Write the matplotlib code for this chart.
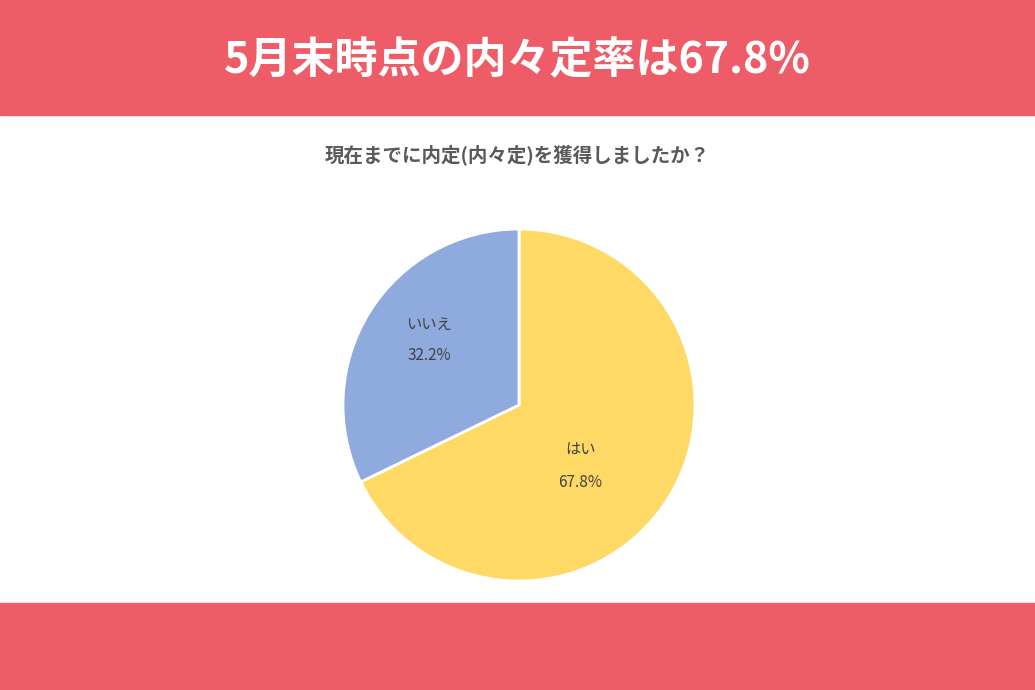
import matplotlib
matplotlib.use("Agg")
import matplotlib.pyplot as plt
import numpy as np

plt.rcParams['font.family'] = ['Noto Sans CJK JP', 'DejaVu Sans']

title = "5月末時点の内々定率は67.8%"
subtitle = "現在までに内定(内々定)を獲得しましたか？"
categories = ["はい", "いいえ"]
values = [67.8, 32.2]
colors = ["#FFD966", "#8FAADC"]

W, H = 1035, 690
fig = plt.figure(figsize=(W/100, H/100), dpi=100)
fig.patch.set_facecolor("white")
red = "#EE5C67"
fig.add_artist(plt.Rectangle((0, 1-115/H), 1, 115/H, transform=fig.transFigure, color=red, zorder=0))
fig.add_artist(plt.Rectangle((0, 0), 1, 87/H, transform=fig.transFigure, color=red, zorder=0))
fig.text(0.5, 1-60/H, title, color="white", fontsize=31, fontweight="bold", ha="center", va="center")
fig.text(0.5, 1-155/H, subtitle, color="#595959", fontsize=14, fontweight="bold", ha="center", va="center")

cx, cy, r = 519, H-405, 176
ax = fig.add_axes([(cx-r)/W, (cy-r)/H, 2*r/W, 2*r/H])
wedges, _ = ax.pie(values, colors=colors, startangle=90, counterclock=False,
                   wedgeprops=dict(edgecolor="white", linewidth=2))
ax.set_xlim(-1, 1); ax.set_ylim(-1, 1); ax.set_aspect("equal"); ax.axis("off")

offsets = {"はい": (0.35, -0.35), "いいえ": (-0.51, 0.37)}
for cat, v in zip(categories, values):
    x, y = offsets[cat]
    ax.text(x, y + 0.09, cat, ha="center", va="center", fontsize=11, color="#404040")
    ax.text(x, y - 0.09, f"{v}%", ha="center", va="center", fontsize=11, color="#404040")

fig.savefig("out.png", dpi=100)
